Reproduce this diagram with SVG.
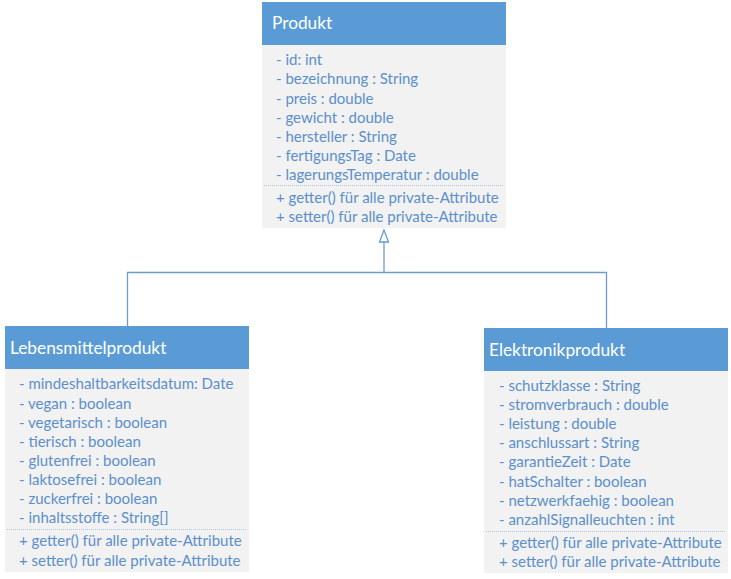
<svg xmlns="http://www.w3.org/2000/svg" width="731" height="579" viewBox="0 0 731 579">
<style>
.hdr{fill:#5B9BD5}
.body{fill:#F2F2F2}
.title{font-family:Lato,"Open Sans",sans-serif;font-size:17.3px;fill:#FFFFFF}
.row{font-family:Lato,"Open Sans",sans-serif;font-size:15px;fill:#5B8FCB}
.div{stroke:#A9C4E4;stroke-width:1;stroke-dasharray:1 1}
.conn{stroke:#6D9BD0;stroke-width:1.3;fill:none}
</style>
<rect width="731" height="579" fill="#FFFFFF"/>
<g id="Produkt">
<rect class="body" x="262" y="45" width="244" height="183"/>
<rect class="hdr" x="262" y="2" width="244" height="43"/>
<text class="title" x="272" y="29">Produkt</text>
<text class="row" x="276" y="65">- id: int</text>
<text class="row" x="276" y="84">- bezeichnung : String</text>
<text class="row" x="276" y="104">- preis : double</text>
<text class="row" x="276" y="123">- gewicht : double</text>
<text class="row" x="276" y="142">- hersteller : String</text>
<text class="row" x="276" y="161">- fertigungsTag : Date</text>
<text class="row" x="276" y="180">- lagerungsTemperatur : double</text>
<line class="div" x1="264" y1="185.5" x2="504" y2="185.5"/>
<text class="row" x="276" y="203">+ getter() für alle private-Attribute</text>
<text class="row" x="276" y="222">+ setter() für alle private-Attribute</text>
</g>
<g id="Lebensmittelprodukt">
<rect class="body" x="5" y="369" width="244" height="203"/>
<rect class="hdr" x="5" y="326" width="244" height="43"/>
<text class="title" x="10" y="354">Lebensmittelprodukt</text>
<text class="row" x="19" y="389">- mindeshaltbarkeitsdatum: Date</text>
<text class="row" x="19" y="409">- vegan : boolean</text>
<text class="row" x="19" y="428">- vegetarisch : boolean</text>
<text class="row" x="19" y="447">- tierisch : boolean</text>
<text class="row" x="19" y="466">- glutenfrei : boolean</text>
<text class="row" x="19" y="485">- laktosefrei : boolean</text>
<text class="row" x="19" y="504">- zuckerfrei : boolean</text>
<text class="row" x="19" y="523">- inhaltsstoffe : String[]</text>
<line class="div" x1="7" y1="529.5" x2="247" y2="529.5"/>
<text class="row" x="19" y="546">+ getter() für alle private-Attribute</text>
<text class="row" x="19" y="566">+ setter() für alle private-Attribute</text>
</g>
<g id="Elektronikprodukt">
<rect class="body" x="484" y="371" width="244" height="202"/>
<rect class="hdr" x="484" y="328" width="244" height="43"/>
<text class="title" x="489" y="356">Elektronikprodukt</text>
<text class="row" x="499" y="391">- schutzklasse : String</text>
<text class="row" x="499" y="410">- stromverbrauch : double</text>
<text class="row" x="499" y="429">- leistung : double</text>
<text class="row" x="499" y="448">- anschlussart : String</text>
<text class="row" x="499" y="467">- garantieZeit : Date</text>
<text class="row" x="499" y="487">- hatSchalter : boolean</text>
<text class="row" x="499" y="506">- netzwerkfaehig : boolean</text>
<text class="row" x="499" y="525">- anzahlSignalleuchten : int</text>
<line class="div" x1="486" y1="531.5" x2="726" y2="531.5"/>
<text class="row" x="499" y="548">+ getter() für alle private-Attribute</text>
<text class="row" x="499" y="567">+ setter() für alle private-Attribute</text>
</g>
<g id="connectors">
<polyline class="conn" points="127.5,326 127.5,272.5 606.5,272.5 606.5,328"/>
<line class="conn" x1="384" y1="272.5" x2="384" y2="242"/>
<polygon class="conn" points="384,230 379.5,242 388.5,242" fill="#FFFFFF"/>
</g>
</svg>
